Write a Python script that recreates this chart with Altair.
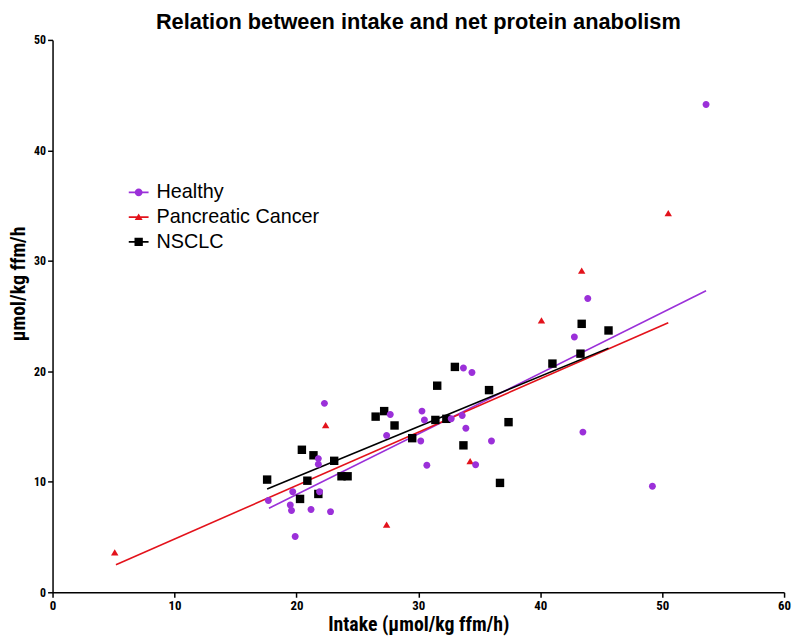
import altair as alt
import pandas as pd

groups = ["Healthy", "Pancreatic Cancer", "NSCLC"]
group_colors = ["#9B30D9", "#E3121B", "#000000"]

healthy_x = [17.7, 19.5, 19.6, 19.7, 19.9, 21.2, 21.8, 21.8, 21.9, 22.3, 22.8,
             27.4, 27.7, 30.2, 30.3, 30.5, 30.7, 32.7, 33.6, 33.7, 33.9, 34.4, 34.7, 36.0,
             42.8, 43.5, 43.9, 49.2, 53.6]
healthy_y = [8.3, 7.9, 7.4, 9.1, 5.05, 7.5, 12.1, 11.6, 9.1, 17.1, 7.3,
             14.2, 16.1, 13.7, 16.4, 15.6, 11.5, 15.7, 16.0, 20.3, 14.85, 19.9, 11.55, 13.7,
             23.1, 14.5, 26.6, 9.6, 44.15]
pancreatic_x = [5.1, 22.4, 27.4, 34.25, 40.1, 43.4, 50.5]
pancreatic_y = [3.6, 15.1, 6.1, 11.85, 24.6, 29.1, 34.3]
nsclc_x = [17.6, 20.3, 20.45, 20.9, 21.4, 21.8, 23.1, 23.7, 24.2,
           26.5, 27.2, 28.05, 29.5, 31.4, 31.55, 32.3, 33.0, 33.7, 35.8, 36.7, 37.4,
           41.0, 43.3, 43.4, 45.6]
nsclc_y = [10.2, 8.45, 12.9, 10.1, 12.4, 8.9, 11.9, 10.5, 10.5,
           15.9, 16.4, 15.1, 13.95, 15.6, 18.7, 15.7, 20.4, 13.3, 18.3, 9.9, 15.4,
           20.7, 21.6, 24.3, 23.7]

# fitted lines (end points)
fit_group = ["Healthy", "Healthy", "Pancreatic Cancer", "Pancreatic Cancer", "NSCLC", "NSCLC"]
fit_x = [17.75, 53.6, 5.2, 50.5, 17.6, 45.6]
fit_y = [7.6, 27.3, 2.5, 24.4, 9.35, 22.1]

x_ticks = [0, 10, 20, 30, 40, 50, 60]
y_ticks = [0, 10, 20, 30, 40, 50]

# marker shapes
point_shapes = [
    "M-0.7,0A0.7,0.7,0,1,1,0.7,0A0.7,0.7,0,1,1,-0.7,0Z",
    "M0,-0.68L0.75,0.58L-0.75,0.58Z",
    "M-0.85,-0.85H0.85V0.85H-0.85Z",
]
legend_shapes = [
    "M-1,-0.08H1V0.08H-1Z M-0.4,0A0.4,0.4,0,1,1,0.4,0A0.4,0.4,0,1,1,-0.4,0Z",
    "M-1,-0.08H1V0.08H-1Z M0,-0.36L0.4,0.3L-0.4,0.3Z",
    "M-1,-0.08H1V0.08H-1Z M-0.42,-0.42H0.42V0.42H-0.42Z",
]

rows = []
for g, xs, ys in [("NSCLC", nsclc_x, nsclc_y),
                  ("Pancreatic Cancer", pancreatic_x, pancreatic_y),
                  ("Healthy", healthy_x, healthy_y)]:
    for xv, yv in zip(xs, ys):
        rows.append({"group": g, "x": xv, "y": yv})
points_df = pd.DataFrame(rows)
fit_df = pd.DataFrame({"group": fit_group, "x": fit_x, "y": fit_y})

NARROW = "Liberation Sans Narrow, Arial Narrow, Roboto Condensed, Liberation Sans, sans-serif"
SANS = "Liberation Sans, Arial, sans-serif"

x_enc = alt.X("x:Q", scale=alt.Scale(domain=[0, 60], nice=False),
              axis=alt.Axis(values=x_ticks, title="Intake (µmol/kg ffm/h)",
                            labelFlush=False, labelFontSize=13, titleFontSize=20,
                            titleY=23))
y_enc = alt.Y("y:Q", scale=alt.Scale(domain=[0, 50], nice=False),
              axis=alt.Axis(values=y_ticks, title="µmol/kg ffm/h",
                            labelFlush=False, labelFontSize=12, titleFontSize=20,
                            titleX=-24, titleY=246))

color_none = alt.Color("group:N", scale=alt.Scale(domain=groups, range=group_colors), legend=None)

lines = alt.Chart(fit_df).mark_line(strokeWidth=1.6).encode(
    x=x_enc, y=y_enc, color=color_none, detail="group:N"
)

points = alt.Chart(points_df).mark_point(filled=True, opacity=1, size=100, strokeWidth=0).encode(
    x=x_enc, y=y_enc, color=color_none,
    shape=alt.Shape("group:N", scale=alt.Scale(domain=groups, range=point_shapes), legend=None),
)

leg = dict(title=None, orient="none", legendX=77, legendY=144, padding=0,
           symbolSize=400, symbolStrokeWidth=0, labelFont=SANS, labelLimit=400,
           labelFontSize=20, labelColor="black", labelOffset=8, rowPadding=5)

legend_layer = alt.Chart(points_df).transform_filter("false").mark_point(
    filled=True, opacity=1, size=100, strokeWidth=0
).encode(
    x=x_enc, y=y_enc,
    color=alt.Color("group:N", scale=alt.Scale(domain=groups, range=group_colors),
                    legend=alt.Legend(**leg)),
    shape=alt.Shape("group:N", scale=alt.Scale(domain=groups, range=legend_shapes),
                    legend=alt.Legend(**leg)),
)

chart = alt.layer(lines, points, legend_layer).resolve_scale(
    color="independent", shape="independent"
).properties(
    width=739, height=558,
    title=alt.TitleParams("Relation between intake and net protein anabolism",
                          font=SANS, fontSize=22, fontWeight="bold", color="black",
                          anchor="middle", offset=0),
    autosize=alt.AutoSizeParams(type="none"),
    padding={"left": 45, "top": 29, "right": 8, "bottom": 48},
).configure_view(stroke=None).configure_axis(
    grid=False, domainColor="black", domainWidth=1.5, tickColor="black", tickWidth=1.5,
    tickSize=5, labelFont=NARROW, labelFontWeight="bold", labelColor="black",
    labelPadding=2, titleFont=NARROW, titleFontWeight="bold", titleColor="black",
)

chart.save("out.html", embed_options={"renderer": "svg", "actions": False})
